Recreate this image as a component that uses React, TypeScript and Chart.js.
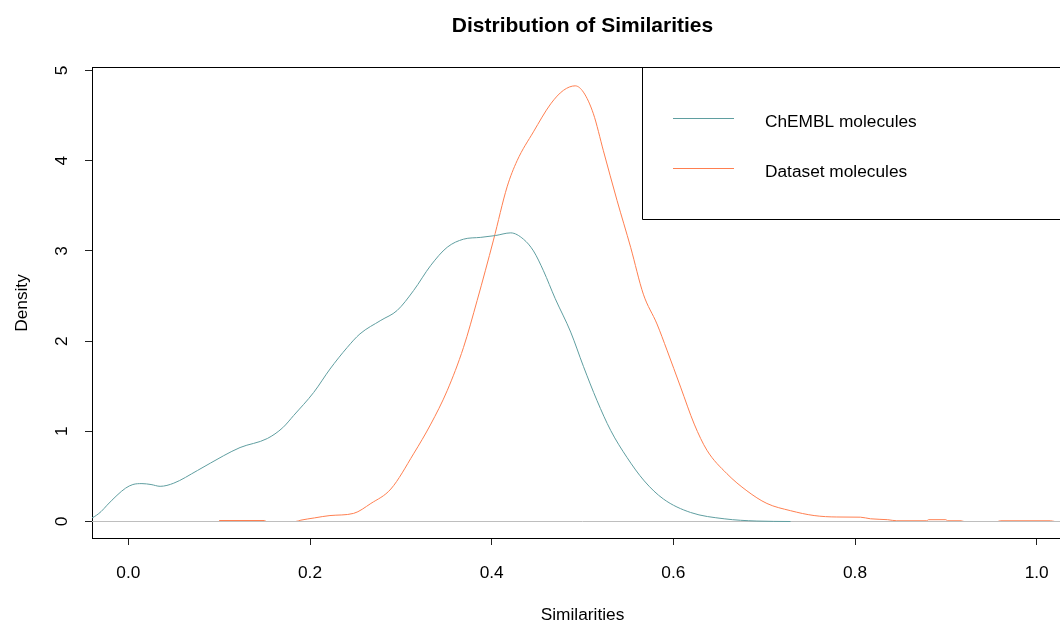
import React, { useEffect, useRef } from 'react';
import { Chart, registerables } from 'chart.js';

Chart.register(...registerables);

// ---- Data ----
const chemblX = [-0.045, -0.04, -0.03, -0.0235, -0.0125, -0.003, 0.005, 0.015, 0.025, 0.035, 0.05, 0.076, 0.105, 0.123, 0.153, 0.17, 0.182, 0.204, 0.222, 0.241, 0.255, 0.278, 0.296, 0.314, 0.333, 0.351, 0.369, 0.388, 0.404, 0.421, 0.435, 0.446, 0.457, 0.47, 0.487, 0.501, 0.516, 0.531, 0.549, 0.568, 0.589, 0.619, 0.656, 0.692, 0.729];
const chemblY = [0.03, 0.04, 0.11, 0.18, 0.29, 0.37, 0.41, 0.42, 0.41, 0.39, 0.425, 0.565, 0.73, 0.82, 0.92, 1.04, 1.175, 1.43, 1.69, 1.93, 2.08, 2.23, 2.34, 2.56, 2.84, 3.04, 3.13, 3.15, 3.17, 3.2, 3.13, 3.0, 2.78, 2.47, 2.1, 1.72, 1.34, 1.01, 0.71, 0.45, 0.25, 0.1, 0.03, 0.005, 0.0];

const datasetX = [0.1, 0.15, 0.152, 0.184, 0.19, 0.205, 0.222, 0.248, 0.267, 0.289, 0.314, 0.333, 0.351, 0.369, 0.384, 0.402, 0.417, 0.428, 0.446, 0.465, 0.479, 0.492, 0.501, 0.512, 0.523, 0.538, 0.553, 0.567, 0.582, 0.593, 0.608, 0.623, 0.637, 0.659, 0.681, 0.703, 0.729, 0.755, 0.78, 0.806, 0.817, 0.836, 0.846, 0.879, 0.881, 0.9, 0.902, 0.917, 0.92, 0.957, 0.96, 1.015, 1.02];
const datasetY = [0.011, 0.011, 0, 0, 0.015, 0.04, 0.066, 0.09, 0.2, 0.36, 0.75, 1.08, 1.45, 1.93, 2.45, 3.12, 3.71, 4.0, 4.32, 4.63, 4.78, 4.83, 4.76, 4.52, 4.11, 3.56, 3.04, 2.52, 2.19, 1.9, 1.49, 1.08, 0.79, 0.53, 0.34, 0.2, 0.12, 0.066, 0.05, 0.048, 0.03, 0.02, 0.008, 0.008, 0.02, 0.02, 0.008, 0.008, 0, 0, 0.008, 0.008, 0];

const zeroLineX = [-0.04, 1.04];
const zeroLineY = [0, 0];

const seriesLabels = ['ChEMBL molecules', 'Dataset molecules'];
const seriesColors = ['#5F9EA0', '#FF7F50'];

const xTicks = [0, 0.2, 0.4, 0.6, 0.8, 1.0];
const xTickLabels = ['0.0', '0.2', '0.4', '0.6', '0.8', '1.0'];
const yTicks = [0, 1, 2, 3, 4, 5];
const yTickLabels = ['0', '1', '2', '3', '4', '5'];

const titleText = 'Distribution of Similarities';
const xTitle = 'Similarities';
const yTitle = 'Density';

const FONT = '"Liberation Sans", Arial, sans-serif';

const toPoints = (xs: number[], ys: number[]) => xs.map((x, i) => ({ x, y: ys[i] }));

const textPlugin = {
  id: 'rStyleText',
  afterDraw(chart: any) {
    const ctx = chart.ctx as CanvasRenderingContext2D;
    const area = chart.chartArea;
    const xs = chart.scales.x;
    const ys = chart.scales.y;
    ctx.save();
    ctx.fillStyle = '#000';
    ctx.strokeStyle = '#000';
    ctx.lineWidth = 1;

    // top border of the box
    ctx.beginPath();
    ctx.moveTo(area.left, 67.5);
    ctx.lineTo(area.right + 1, 67.5);
    ctx.stroke();
    // right border (off-screen, as in the reference)
    ctx.beginPath();
    ctx.moveTo(area.right + 0.5, 67.5);
    ctx.lineTo(area.right + 0.5, area.bottom);
    ctx.stroke();

    // title
    const cx = (area.left + area.right) / 2;
    ctx.font = `bold 21px ${FONT}`;
    ctx.textAlign = 'center';
    ctx.textBaseline = 'alphabetic';
    ctx.fillText(titleText, cx, 31.5);

    // x tick labels
    ctx.font = `17.3px ${FONT}`;
    xTicks.forEach((v, i) => {
      ctx.fillText(xTickLabels[i], xs.getPixelForValue(v), 578.3);
    });
    // x title
    ctx.fillText(xTitle, cx, 620);

    // y tick labels (rotated)
    yTicks.forEach((v, i) => {
      ctx.save();
      ctx.translate(67, ys.getPixelForValue(v));
      ctx.rotate(-Math.PI / 2);
      ctx.fillText(yTickLabels[i], 0, 0);
      ctx.restore();
    });
    // y title
    ctx.save();
    ctx.translate(26.5, (area.top + area.bottom) / 2);
    ctx.rotate(-Math.PI / 2);
    ctx.fillText(yTitle, 0, 0);
    ctx.restore();

    // legend box
    const bx = 642.5;
    const by = 67.5;
    const bb = 219.5;
    ctx.beginPath();
    ctx.moveTo(area.right + 0.5, by);
    ctx.lineTo(bx, by);
    ctx.lineTo(bx, bb);
    ctx.lineTo(area.right + 0.5, bb);
    ctx.stroke();

    const rows = [118.5, 168.5];
    const baselines = [126.8, 177.2];
    seriesLabels.forEach((lab, i) => {
      ctx.strokeStyle = seriesColors[i];
      ctx.beginPath();
      ctx.moveTo(673, rows[i]);
      ctx.lineTo(734, rows[i]);
      ctx.stroke();
      ctx.fillStyle = '#000';
      ctx.textAlign = 'left';
      ctx.fillText(lab, 765, baselines[i]);
    });
    ctx.restore();
  },
};

export default function App() {
  const ref = useRef<HTMLCanvasElement | null>(null);

  useEffect(() => {
    document.body.style.margin = '0';
    if (!ref.current) return;
    const chart = new Chart(ref.current, {
      type: 'line',
      data: {
        datasets: [
          {
            label: seriesLabels[0],
            data: toPoints(chemblX, chemblY),
            borderColor: seriesColors[0],
            borderWidth: 1,
            pointRadius: 0,
            fill: false,
            cubicInterpolationMode: 'monotone',
          },
          {
            label: 'zero',
            data: toPoints(zeroLineX, zeroLineY),
            borderColor: '#BEBEBE',
            borderWidth: 1,
            pointRadius: 0,
            fill: false,
          },
          {
            label: seriesLabels[1],
            data: toPoints(datasetX, datasetY),
            borderColor: seriesColors[1],
            borderWidth: 1,
            pointRadius: 0,
            fill: false,
            cubicInterpolationMode: 'monotone',
          },
        ],
      },
      options: {
        responsive: false,
        animation: false,
        devicePixelRatio: 1,
        parsing: true,
        layout: { padding: { top: 68, right: 7, left: 0, bottom: 0 } },
        plugins: {
          legend: { display: false },
          title: { display: false },
          tooltip: { enabled: false },
        },
        scales: {
          x: {
            type: 'linear',
            min: -0.04,
            max: 1.04,
            afterBuildTicks: (s: any) => {
              s.ticks = xTicks.map((v) => ({ value: v }));
            },
            afterFit: (s: any) => {
              s.height = 85;
            },
            ticks: { display: false },
            grid: {
              display: true,
              drawOnChartArea: false,
              drawTicks: true,
              tickLength: 7,
              color: '#222',
              lineWidth: 1,
            },
            border: { display: true, color: '#000', width: 1 },
          },
          y: {
            type: 'linear',
            min: -0.1829,
            max: 5.0277,
            afterBuildTicks: (s: any) => {
              s.ticks = yTicks.map((v) => ({ value: v }));
            },
            afterFit: (s: any) => {
              s.width = 92;
            },
            ticks: { display: false },
            grid: {
              display: true,
              drawOnChartArea: false,
              drawTicks: true,
              tickLength: 7,
              color: '#222',
              lineWidth: 1,
            },
            border: { display: true, color: '#000', width: 1 },
          },
        },
      } as any,
      plugins: [textPlugin],
    });
    return () => chart.destroy();
  }, []);

  return (
    <div style={{ position: 'fixed', left: 0, top: 0, width: 1060, height: 623, overflow: 'hidden', background: '#fff' }}>
      <canvas ref={ref} width={1080} height={623} style={{ display: 'block' }} />
    </div>
  );
}
